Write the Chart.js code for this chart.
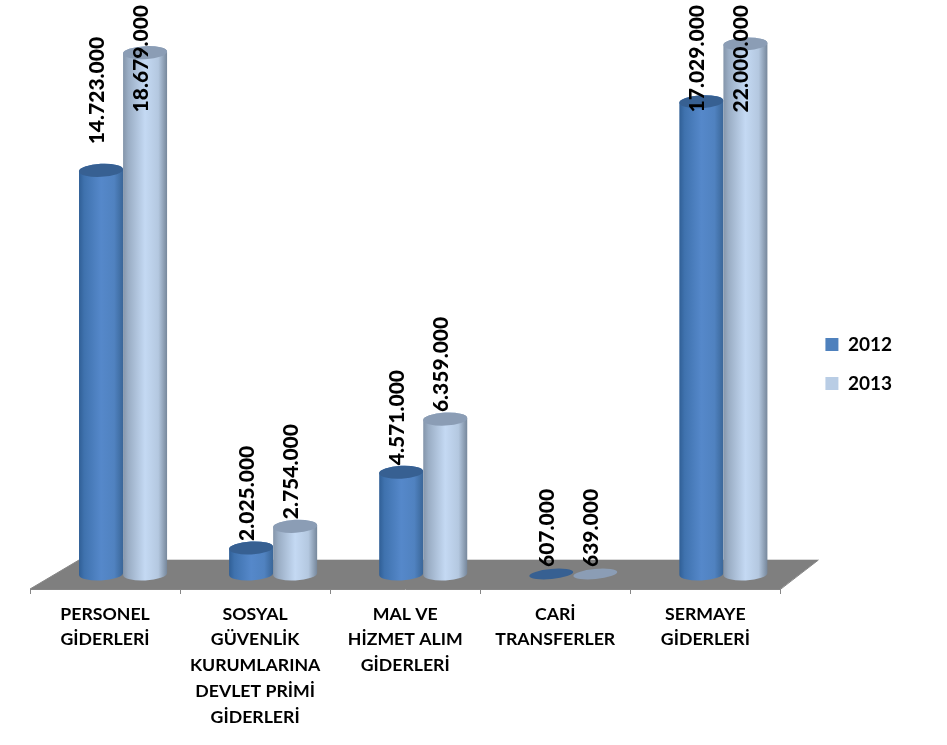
<!DOCTYPE html>
<html>
<head>
<meta charset="utf-8">
<script src="https://cdn.jsdelivr.net/npm/chart.js@4"></script>
<style>
html, body { margin: 0; padding: 0; background: #fff; }
canvas { display: block; }
</style>
</head>
<body>
<canvas id="chart" width="947" height="745"></canvas>
<script>
const categories = [
    ['PERSONEL', 'GİDERLERİ'],
    ['SOSYAL', 'GÜVENLİK', 'KURUMLARINA', 'DEVLET PRİMİ', 'GİDERLERİ'],
    ['MAL VE', 'HİZMET ALIM', 'GİDERLERİ'],
    ['CARİ', 'TRANSFERLER'],
    ['SERMAYE', 'GİDERLERİ']
];
const values2012 = [14723000, 2025000, 4571000, 607000, 17029000];
const values2013 = [18679000, 2754000, 6359000, 639000, 22000000];
const seriesNames = ['2012', '2013'];

// the original axis is cut off at both ends, so the small bars go flat and 22.000.000 is clipped
const axisMin = 1150000;
const axisMax = 18970000;

const colors = [
    {legend: '#4f81bd', stops: ['#305f96', '#3f72ae', '#5588ca', '#5082c0', '#3a6698'], top: '#376092'},
    {legend: '#b9cde5', stops: ['#8495aa', '#9aadc4', '#c4d9f3', '#b4c8e0', '#76879b'], top: '#8b9db5'}
];

const depthX = 18;   // 3d shift of the bars from the axis
const depthY = 15;
const tilt = -0.05;
const font = 'Lato, sans-serif';

function fmt(v) {
    return String(v).replace(/\B(?=(\d{3})+$)/g, '.');
}

const cylinders = {
    id: 'cylinders',
    afterLayout(chart) {
        // legend sits further right than the plot would allow
        chart.legend.left += 25;
        chart.legend.right += 25;
        chart.legend.top -= 38;
        chart.legend.bottom -= 38;
    },
    afterDatasetsDraw(chart) {
        const ctx = chart.ctx;
        const area = chart.chartArea;

        // floor
        ctx.fillStyle = '#7f7f7f';
        ctx.beginPath();
        ctx.moveTo(area.left, area.bottom);
        ctx.lineTo(area.left + 49, area.bottom - 29);
        ctx.lineTo(area.right + 38, area.bottom - 29);
        ctx.lineTo(area.right, area.bottom);
        ctx.closePath();
        ctx.fill();
        ctx.strokeStyle = '#d9d9d9';
        ctx.lineWidth = 1;
        ctx.beginPath();
        ctx.moveTo(area.left + 49, area.bottom - 29.5);
        ctx.lineTo(area.right + 38, area.bottom - 29.5);
        ctx.stroke();
        ctx.strokeStyle = '#868686';
        ctx.beginPath();
        ctx.moveTo(area.right + 0.5, area.bottom);
        ctx.lineTo(area.right + 38, area.bottom - 29);
        ctx.moveTo(area.left, area.bottom);
        ctx.lineTo(area.left + 49, area.bottom - 29);
        ctx.stroke();

        chart.data.datasets.forEach((ds, d) => {
            const c = colors[d];
            chart.getDatasetMeta(d).data.forEach(bar => {
                const rx = bar.width / 2;
                const ry = 6.5;
                const cx = bar.x + depthX;
                const baseY = area.bottom - depthY;
                const topY = Math.min(Math.max(bar.y, area.top), area.bottom) - depthY;
                const flat = topY === baseY;

                const grad = ctx.createLinearGradient(cx - rx, 0, cx + rx, 0);
                grad.addColorStop(0, c.stops[0]);
                grad.addColorStop(0.12, c.stops[1]);
                grad.addColorStop(0.5, c.stops[2]);
                grad.addColorStop(0.8, c.stops[3]);
                grad.addColorStop(1, c.stops[4]);

                if (!flat) {
                    ctx.fillStyle = grad;
                    ctx.beginPath();
                    ctx.ellipse(cx, baseY, rx, ry, tilt, Math.PI, 0, true);
                    ctx.ellipse(cx, topY, rx, ry, tilt, 0, Math.PI, true);
                    ctx.closePath();
                    ctx.fill();
                }

                ctx.fillStyle = c.top;
                ctx.beginPath();
                ctx.ellipse(cx, topY, rx, flat ? 5 : ry, flat ? -0.09 : tilt, 0, Math.PI * 2);
                ctx.fill();
            });
        });

        // value labels, rotated; they stay inside the canvas at the top
        ctx.fillStyle = '#000';
        ctx.font = '900 21px ' + font;
        ctx.textAlign = 'left';
        ctx.textBaseline = 'middle';
        chart.data.datasets.forEach((ds, d) => {
            chart.getDatasetMeta(d).data.forEach((bar, i) => {
                const text = fmt(ds.data[i]);
                const w = ctx.measureText(text).width;
                const topY = Math.min(Math.max(bar.y, area.top), area.bottom) - depthY;
                let y = topY - 7;
                if (d === 0 && i === 0) y -= 19;
                y = Math.max(y, w + 5);
                ctx.save();
                ctx.translate(bar.x + depthX - 4, y);
                ctx.rotate(-Math.PI / 2);
                ctx.fillText(text, 0, 0);
                ctx.restore();
            });
        });
    }
};

new Chart(document.getElementById('chart'), {
    type: 'bar',
    data: {
        labels: categories,
        datasets: [
            {label: seriesNames[0], data: values2012, backgroundColor: 'transparent'},
            {label: seriesNames[1], data: values2013, backgroundColor: 'transparent'}
        ]
    },
    options: {
        responsive: false,
        animation: false,
        layout: {padding: {left: 30, right: 70, top: 59, bottom: 0}},
        categoryPercentage: 0.587,
        barPercentage: 1,
        scales: {
            x: {
                grid: {drawOnChartArea: false, drawTicks: true, tickLength: 5, color: '#868686'},
                border: {color: '#868686'},
                ticks: {
                    color: '#000',
                    padding: 7,
                    maxRotation: 0,
                    font: {family: font, weight: 'bold', size: 17.7, lineHeight: 1.46}
                },
                afterFit(scale) { scale.height = 156; }
            },
            y: {display: false, min: axisMin, max: axisMax}
        },
        plugins: {
            tooltip: {enabled: false},
            legend: {
                position: 'right',
                labels: {
                    boxWidth: 13,
                    boxHeight: 13,
                    padding: 20,
                    color: '#000',
                    font: {family: font, weight: 'bold', size: 19},
                    generateLabels: () => seriesNames.map((n, i) => ({
                        text: n, fillStyle: colors[i].legend, strokeStyle: colors[i].legend, lineWidth: 0, datasetIndex: i
                    }))
                }
            }
        }
    },
    plugins: [cylinders]
});
</script>
</body>
</html>
